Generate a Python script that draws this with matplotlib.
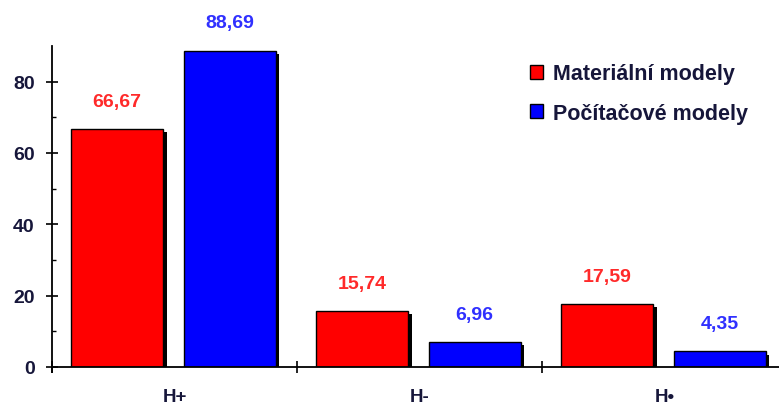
import matplotlib
matplotlib.use('Agg')
import matplotlib.pyplot as plt
import numpy as np

categories = ['H+', 'H-', 'H•']
material = [66.67, 15.74, 17.59]
computer = [88.69, 6.96, 4.35]
series_names = ['Materiální modely', 'Počítačové modely']
yticks = [0, 20, 40, 60, 80]

plt.rcParams['font.family'] = ['Liberation Sans', 'DejaVu Sans']
text_color = '#16163a'

fig = plt.figure(figsize=(7.79, 4.10), dpi=100)
ax = fig.add_axes([52 / 779, 42 / 410, 735 / 779, 321 / 410])

x = np.arange(len(categories))
width = 0.375
offsets = [-0.235, 0.225]
colors = ['#ff0000', '#0000ff']
label_colors = ['#ff2a2a', '#3030ff']

for vals, off, col, lcol, name in zip([material, computer], offsets, colors, label_colors, series_names):
    vals = np.array(vals)
    # shadow
    ax.bar(x + off + 0.016, np.maximum(vals - 0.85, 0), width, color='black', zorder=1)
    ax.bar(x + off, vals, width, color=col, edgecolor='black', linewidth=1.0, zorder=2, label=name)
    for xi, v in zip(x + off, vals):
        ax.annotate(f'{v:.2f}'.replace('.', ','), (xi, v), xytext=(0, 20), textcoords='offset points',
                    ha='center', va='center', color=lcol, fontsize=14, fontweight='bold')

ax.set_xlim(-0.5, 2.5)
ax.set_ylim(0, 90)
ax.spines['top'].set_visible(False)
ax.spines['right'].set_visible(False)
ax.spines['left'].set_linewidth(1.3)
ax.spines['bottom'].set_linewidth(1.3)
ax.spines['left'].set_bounds(-1.5, 90)

ax.set_yticks(yticks)
ax.set_yticks(np.arange(10, 90, 20), minor=True)
ax.tick_params(axis='y', which='major', direction='inout', length=9, width=1.2,
               labelsize=14, labelcolor=text_color, pad=8)
ax.tick_params(axis='y', which='minor', direction='in', length=3, width=1.0)
for lbl in ax.get_yticklabels():
    lbl.set_fontweight('bold')

ax.set_xticks([-0.5, 0.5, 1.5])
ax.set_xticklabels([])
ax.tick_params(axis='x', which='major', direction='inout', length=9, width=1.2)
for xi, cat in zip(x, categories):
    ax.text(xi, -8.3, cat, ha='center', va='center', fontsize=13.5, fontweight='bold', color=text_color)

leg = ax.legend(loc='upper left', bbox_to_anchor=(0.650, 0.946), frameon=False, fontsize=15.5,
                borderpad=0, borderaxespad=0,
                handlelength=0.62, handleheight=0.62, handletextpad=0.45, labelspacing=0.85)
for t in leg.get_texts():
    t.set_fontweight('bold')
    t.set_color(text_color)

fig.savefig('out.png', dpi=100)
